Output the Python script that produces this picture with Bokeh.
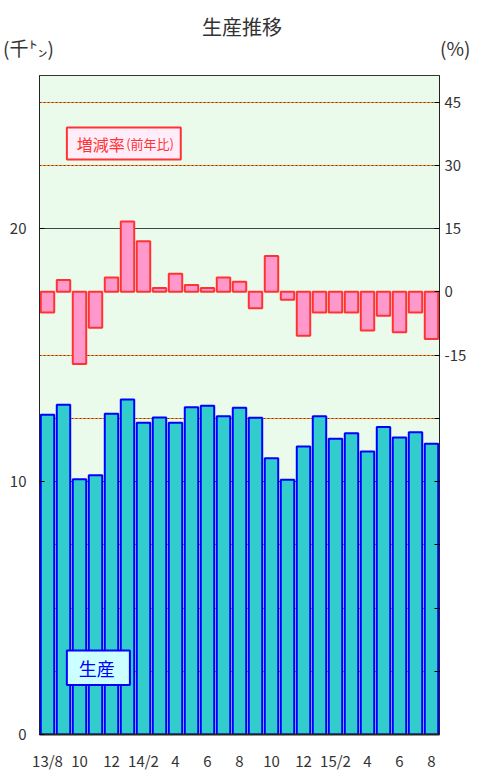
from bokeh.plotting import figure
from bokeh.models import Range1d, LinearAxis, FixedTicker, Label, BoxAnnotation, Grid, Div
from bokeh.layouts import column
from bokeh.embed import file_html
from bokeh.resources import INLINE

# ---- data ----
title_text = "生産推移"
left_unit = "(千㌧)"
right_unit = "(%)"
months = ["13/8", "13/9", "13/10", "13/11", "13/12", "14/1", "14/2", "14/3", "14/4",
          "14/5", "14/6", "14/7", "14/8", "14/9", "14/10", "14/11", "14/12", "15/1",
          "15/2", "15/3", "15/4", "15/5", "15/6", "15/7", "15/8"]
tick_labels = ["13/8", "", "10", "", "12", "", "14/2", "", "4", "", "6", "", "8", "",
               "10", "", "12", "", "15/2", "", "4", "", "6", "", "8"]
production = [12.64, 13.03, 10.09, 10.25, 12.68, 13.24, 12.32, 12.53, 12.32, 12.94,
              13.00, 12.58, 12.92, 12.52, 10.92, 10.07, 11.38, 12.58, 11.69, 11.91,
              11.19, 12.16, 11.74, 11.95, 11.49]
growth = [-4.9, 2.8, -17.1, -8.5, 3.4, 16.7, 12.0, 0.9, 4.3, 1.6, 0.9, 3.4, 2.4,
          -3.9, 8.5, -1.9, -10.4, -4.9, -4.9, -4.9, -9.2, -5.7, -9.6, -4.9, -11.2]
left_ticks = [0, 10, 20]
right_ticks = [-90, -75, -60, -45, -30, -15, 0, 15, 30, 45]
right_labelled = [-15, 0, 15, 30, 45]

x = list(range(len(months)))
FONT = "Noto Sans CJK JP"

# ---- header with title and unit labels ----
header = Div(width=478, height=74, margin=(0, 0, 0, 0), text=(
    f'<div style="position:relative;width:478px;height:74px;margin:0;padding:0;'
    f'font-family:\'{FONT}\';color:#333333;">'
    f'<span style="position:absolute;left:202px;top:13px;font-size:20px;'
    f'white-space:nowrap;">{title_text}</span>'
    f'<span style="position:absolute;left:3px;top:34px;font-size:19px;'
    f'white-space:nowrap;">{left_unit}</span>'
    f'<span style="position:absolute;left:440px;top:34px;font-size:19px;'
    f'white-space:nowrap;">{right_unit}</span>'
    f'</div>'))

p = figure(width=478, height=701, x_range=Range1d(-0.5, len(months) - 0.5),
           y_range=Range1d(0, 26.05), output_backend="svg", toolbar_location=None,
           title_location=None, margin=(0, 0, 0, 0),
           min_border_left=39, min_border_right=39, min_border_top=1,
           min_border_bottom=41, background_fill_color="#ebfbeb",
           border_fill_color="white", outline_line_color="#333333",
           outline_line_width=1)
p.extra_y_ranges = {"pct": Range1d(-105, 51.3)}

# grids
p.xgrid.visible = False
p.ygrid.ticker = FixedTicker(ticks=[10, 20])
p.ygrid.grid_line_color = "#444444"
p.ygrid.grid_line_width = 1
dotted_ticks = [2.5, 5, 7.5, 12.5, 15, 22.5, 25]
p.add_layout(Grid(dimension=1, ticker=FixedTicker(ticks=dotted_ticks),
                  grid_line_color="#ff9933", grid_line_width=1))
p.add_layout(Grid(dimension=1, ticker=FixedTicker(ticks=dotted_ticks),
                  grid_line_color="#993300", grid_line_dash="2 2", grid_line_width=1))

# bars
p.vbar(x=x, top=production, bottom=0, width=0.84, fill_color="#33cccc",
       line_color="#0000ff", line_width=2)
p.vbar(x=x, top=growth, bottom=0, width=0.84, fill_color="#ff99cc",
       line_color="#ff3333", line_width=2, y_range_name="pct")

# left axis
ya = p.yaxis[0]
ya.ticker = FixedTicker(ticks=left_ticks)
ya.major_tick_in = 5
ya.major_tick_out = 0
ya.minor_tick_line_color = None
ya.axis_line_color = "#222222"
ya.major_label_standoff = 13
ya.major_label_text_font = FONT
ya.major_label_text_font_size = "15px"
ya.major_label_text_color = "#333333"

# right axis
ra = LinearAxis(y_range_name="pct", ticker=FixedTicker(ticks=right_ticks))
ra.major_label_overrides = {t: (str(t) if t in right_labelled else "") for t in right_ticks}
ra.major_tick_in = 5
ra.major_tick_out = 0
ra.minor_tick_line_color = None
ra.axis_line_color = "#222222"
ra.major_label_standoff = 5
ra.major_label_text_font = FONT
ra.major_label_text_font_size = "15px"
ra.major_label_text_color = "#333333"
p.add_layout(ra, "right")

# bottom axis
xa = p.xaxis[0]
xa.ticker = FixedTicker(ticks=[i for i in x if tick_labels[i]])
xa.major_label_overrides = {i: tick_labels[i] for i in x if tick_labels[i]}
xa.major_tick_line_color = None
xa.major_tick_in = 0
xa.major_tick_out = 0
xa.minor_tick_line_color = None
xa.axis_line_width = 2
xa.axis_line_color = "#222222"
xa.major_label_standoff = 15
xa.major_label_text_font = FONT
xa.major_label_text_font_size = "15px"
xa.major_label_text_color = "#333333"

# legend boxes
p.add_layout(BoxAnnotation(left=1.21, right=8.33, bottom=22.73, top=23.99,
                           fill_color="#ffeefa", fill_alpha=1,
                           line_color="#ff3333", line_width=2, line_alpha=1))
p.add_layout(Label(x=1.83, y=23.36, text="増減率", text_font=FONT,
                   text_font_size="16px", text_color="#ff3333",
                   text_baseline="middle", text_align="left"))
p.add_layout(Label(x=4.92, y=23.36, text="(前年比)", text_font=FONT,
                   text_font_size="13px", text_color="#ff3333",
                   text_baseline="middle", text_align="left"))
p.add_layout(BoxAnnotation(left=1.21, right=5.15, bottom=1.96, top=3.32,
                           fill_color="#ccffff", fill_alpha=1,
                           line_color="#0000ff", line_width=2, line_alpha=1))
p.add_layout(Label(x=1.96, y=2.64, text="生産", text_font=FONT,
                   text_font_size="18px", text_color="#0000ff",
                   text_baseline="middle", text_align="left"))

layout = column(header, p, spacing=0, margin=(0, 0, 0, 0))
open("out.html", "w").write(file_html(layout, INLINE))
